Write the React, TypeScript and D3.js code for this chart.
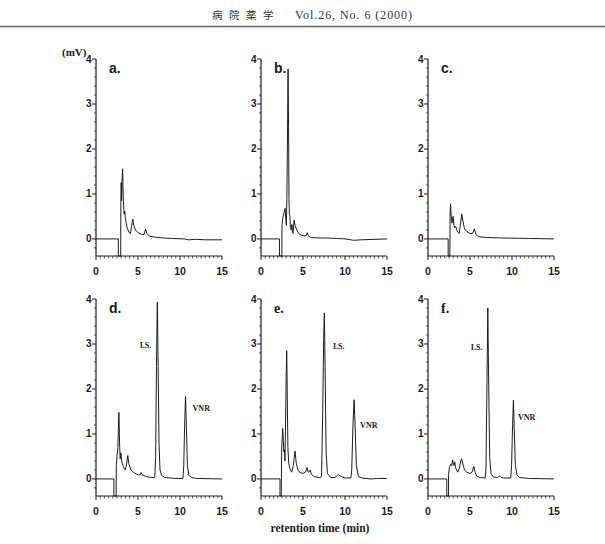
import React from 'react';
import * as d3 from 'd3';

type Pt = [number, number];

// Chromatogram panels: retention time (min) vs detector response (mV)
const panelNames = ['a.', 'b.', 'c.', 'd.', 'e.', 'f.'];
const panelFonts = ['sans', 'sans', 'sans', 'sans', 'serif', 'serif'];
const xTicks = [0, 5, 10, 15];
const yTicks = [0, 1, 2, 3, 4];
const yMin = -0.38;

const traceA: Pt[] = [
  [0, 0], [2.66, 0], [2.66, yMin], [2.94, yMin], [2.96, 0.8], [3.0, 1.25], [3.05, 0.85],
  [3.1, 1.3], [3.17, 1.56], [3.25, 0.9], [3.35, 0.55], [3.42, 0.62], [3.5, 0.45], [3.7, 0.25],
  [3.9, 0.15], [4.1, 0.12], [4.25, 0.3], [4.37, 0.44], [4.5, 0.3], [4.7, 0.2], [5.0, 0.14],
  [5.4, 0.1], [5.75, 0.1], [5.9, 0.22], [6.05, 0.12], [6.4, 0.06], [7, 0.04], [8, 0.02],
  [9, 0.01], [10.5, 0.0], [11, -0.02], [12, -0.01], [13, -0.02], [15, -0.02],
];
const traceB: Pt[] = [
  [0, 0], [2.2, 0], [2.2, yMin], [2.48, yMin], [2.5, 0.3], [2.58, 0.45], [2.7, 0.55],
  [2.87, 0.68], [2.95, 0.45], [3.02, 0.3], [3.08, 0.9], [3.15, 2.2], [3.22, 3.78], [3.28, 2.5],
  [3.33, 0.9], [3.38, 0.55], [3.45, 0.5], [3.5, 0.25], [3.6, 0.2], [3.68, 0.32], [3.75, 0.15],
  [3.82, 0.12], [3.94, 0.42], [4.05, 0.3], [4.3, 0.18], [4.6, 0.1], [5.0, 0.07], [5.35, 0.07],
  [5.5, 0.14], [5.65, 0.06], [6, 0.03], [7, 0.02], [8, 0.02], [9, 0.01], [10, 0],
  [11, -0.03], [12, -0.02], [15, 0],
];
const traceC: Pt[] = [
  [0, 0], [2.4, 0], [2.4, yMin], [2.6, yMin], [2.63, 0.5], [2.68, 0.78], [2.75, 0.55],
  [2.85, 0.35], [2.92, 0.45], [3.0, 0.5], [3.08, 0.3], [3.2, 0.25], [3.3, 0.28], [3.45, 0.18],
  [3.7, 0.12], [3.85, 0.3], [4.02, 0.55], [4.15, 0.4], [4.35, 0.22], [4.6, 0.17], [5.0, 0.12],
  [5.3, 0.12], [5.52, 0.22], [5.7, 0.1], [6.0, 0.05], [7, 0.03], [9, 0.02], [12, 0.01], [15, 0],
];
const traceD: Pt[] = [
  [0, 0], [2.13, 0], [2.13, yMin], [2.4, yMin], [2.42, 0.3], [2.5, 0.5], [2.6, 0.7],
  [2.72, 1.48], [2.82, 0.7], [2.88, 0.45], [2.96, 0.58], [3.05, 0.4], [3.2, 0.3], [3.45, 0.2],
  [3.6, 0.28], [3.79, 0.52], [3.9, 0.35], [4.15, 0.2], [4.5, 0.14], [5.0, 0.09], [5.25, 0.09],
  [5.37, 0.14], [5.5, 0.09], [6.0, 0.05], [6.6, 0.03], [7.0, 0.03], [7.1, 0.5], [7.2, 2.5],
  [7.3, 3.93], [7.4, 2.5], [7.5, 0.8], [7.62, 0.2], [7.8, 0.08], [8.2, 0.03], [9.0, 0.02],
  [9.3, 0.01], [10.35, 0.01], [10.45, 0.3], [10.55, 1.2], [10.66, 1.83], [10.76, 1.2],
  [10.88, 0.3], [11.05, 0.08], [11.4, 0.03], [12, 0.01], [15, 0],
];
const traceE: Pt[] = [
  [0, 0], [2.26, 0], [2.26, yMin], [2.42, yMin], [2.45, 0.6], [2.52, 0.9], [2.58, 1.12],
  [2.66, 0.85], [2.72, 0.6], [2.78, 0.65], [2.85, 0.4], [2.92, 1.2], [3.0, 2.3], [3.06, 2.85],
  [3.13, 1.8], [3.2, 0.7], [3.3, 0.35], [3.45, 0.22], [3.65, 0.15], [3.85, 0.3], [4.05, 0.62],
  [4.2, 0.35], [4.4, 0.2], [4.6, 0.15], [5.0, 0.12], [5.3, 0.15], [5.48, 0.25], [5.62, 0.15],
  [5.75, 0.16], [5.87, 0.2], [6.0, 0.1], [6.35, 0.05], [7.0, 0.03], [7.2, 0.05], [7.35, 1.5],
  [7.45, 3.0], [7.54, 3.69], [7.63, 2.5], [7.75, 0.6], [7.9, 0.12], [8.3, 0.03], [8.8, 0.03],
  [9.1, 0.08], [9.25, 0.1], [9.45, 0.06], [10, 0.02], [10.7, 0.02], [10.8, 0.2], [10.95, 1.2],
  [11.08, 1.76], [11.2, 1.2], [11.35, 0.3], [11.6, 0.05], [12, 0.02], [13, 0], [14, 0.01],
  [15, 0.01],
];
const traceF: Pt[] = [
  [0, 0], [2.23, 0], [2.23, yMin], [2.43, yMin], [2.45, 0.1], [2.55, 0.25], [2.68, 0.32],
  [2.8, 0.3], [2.94, 0.42], [3.02, 0.3], [3.1, 0.3], [3.18, 0.38], [3.28, 0.25], [3.54, 0.15],
  [3.75, 0.25], [3.9, 0.4], [4.0, 0.45], [4.12, 0.35], [4.35, 0.2], [4.6, 0.15], [5.0, 0.12],
  [5.25, 0.15], [5.45, 0.28], [5.6, 0.15], [5.8, 0.06], [6.2, 0.03], [6.8, 0.02], [6.9, 0.2],
  [7.0, 1.8], [7.12, 3.8], [7.22, 2.2], [7.34, 0.5], [7.5, 0.12], [7.8, 0.04], [8.3, 0.03],
  [8.5, 0.07], [8.65, 0.04], [9, 0.02], [9.85, 0.02], [9.95, 0.3], [10.07, 1.2], [10.17, 1.75],
  [10.27, 1.1], [10.4, 0.3], [10.6, 0.08], [10.9, 0.03], [12, 0.01], [15, 0],
];
const traces = [traceA, traceB, traceC, traceD, traceE, traceF];

// Peak annotations: panel index, text, anchor (min, mV)
const peakPanels = [3, 3, 4, 4, 5, 5];
const peakTexts = ['I.S.', 'VNR', 'I.S.', 'VNR', 'I.S.', 'VNR'];
const peakTimes = [5.2, 11.5, 8.57, 11.8, 5.1, 10.7];
const peakLevels = [2.98, 1.57, 2.94, 1.2, 2.92, 1.38];

const colLeft = [96, 261, 428];
const rowTop = [59, 299];
const plotW = 126;
const plotH = 197;

const SANS = '"Liberation Sans", Arial, sans-serif';
const SERIF = '"Liberation Serif", "Times New Roman", serif';
const INK = '#1a1a1a';

function Panel({ idx }: { idx: number }) {
  const col = idx % 3;
  const row = Math.floor(idx / 3);
  const x = d3.scaleLinear().domain([0, 15]).range([colLeft[col], colLeft[col] + plotW]);
  const y = d3.scaleLinear().domain([yMin, 4]).range([rowTop[row] + plotH, rowTop[row]]);
  const line = d3.line<Pt>().x((d) => x(d[0])).y((d) => y(d[1]));
  const x0 = x(0);
  const yb = y(yMin);
  const minorX = d3.range(0, 15.001, 0.5).filter((v) => Math.abs(v % 5) > 1e-6);
  const minorY = d3.range(-0.2, 4.001, 0.2).filter((v) => Math.abs(v - Math.round(v)) > 1e-6);
  const labels = peakPanels.map((p, i) => (p === idx ? i : -1)).filter((i) => i >= 0);

  return (
    <g>
      <path d={line(traces[idx]) ?? ''} fill="none" stroke="#111" strokeWidth={0.95} strokeLinejoin="round" />
      {/* y axis */}
      <line x1={x0} x2={x0} y1={y(4)} y2={yb} stroke={INK} strokeWidth={1.2} />
      {yTicks.map((v) => (
        <g key={'yt' + v}>
          <line x1={x0 - 4} x2={x0} y1={y(v)} y2={y(v)} stroke={INK} strokeWidth={1} />
          <text x={x0 - 4.5} y={y(v)} dy="0.35em" textAnchor="end" fontFamily={SANS} fontWeight="bold" fontSize={10} fill={INK}>
            {v}
          </text>
        </g>
      ))}
      {minorY.map((v) => (
        <line key={'ym' + v.toFixed(1)} x1={x0 - 2} x2={x0} y1={y(v)} y2={y(v)} stroke={INK} strokeWidth={0.7} />
      ))}
      {/* x axis */}
      <line x1={x0} x2={x(15)} y1={yb} y2={yb} stroke={INK} strokeWidth={1.2} />
      {minorX.map((v) => (
        <line key={'xm' + v} x1={x(v)} x2={x(v)} y1={yb} y2={yb + 2.5} stroke={INK} strokeWidth={0.7} />
      ))}
      {xTicks.map((v) => (
        <g key={'xt' + v}>
          <line x1={x(v)} x2={x(v)} y1={yb} y2={yb + 4} stroke={INK} strokeWidth={1} />
          <text x={x(v)} y={yb + 19} textAnchor="middle" fontFamily={SANS} fontWeight="bold" fontSize={10.5} fill={INK}>
            {v}
          </text>
        </g>
      ))}
      <text
        x={x0 + 13}
        y={y(4) + 14}
        fontFamily={panelFonts[idx] === 'serif' ? SERIF : SANS}
        fontWeight="bold"
        fontSize={14}
        fill={INK}
      >
        {panelNames[idx]}
      </text>
      {labels.map((i) => (
        <text key={'pl' + i} x={x(peakTimes[i])} y={y(peakLevels[i])} dy="0.35em" fontFamily={SERIF} fontWeight="bold" fontSize={8} fill={INK}>
          {peakTexts[i]}
        </text>
      ))}
    </g>
  );
}

export default function App() {
  return (
    <svg
      width={605}
      height={544}
      viewBox="0 0 605 544"
      style={{ position: 'absolute', left: 0, top: 0, background: '#fff' }}
    >
      <rect width={605} height={544} fill="#fff" />
      <text x={212} y={19} fontFamily='"Noto Sans CJK JP", sans-serif' fontSize={10.5} fill="#333" letterSpacing={6.5}>
        病院薬学
      </text>
      <text x={295} y={19} fontFamily={SERIF} fontSize={12} fill="#333" textLength={117} lengthAdjust="spacing">
        Vol.26, No. 6 (2000)
      </text>
      <line x1={0} x2={605} y1={26.5} y2={26.5} stroke="#666" strokeWidth={1.4} />
      <text x={62} y={56} fontFamily={SERIF} fontWeight="bold" fontSize={11} fill={INK}>
        (mV)
      </text>
      {panelNames.map((_, i) => (
        <Panel key={i} idx={i} />
      ))}
      <text x={320} y={532} textAnchor="middle" fontFamily={SERIF} fontWeight="bold" fontSize={11.5} fill={INK}>
        retention time (min)
      </text>
    </svg>
  );
}
